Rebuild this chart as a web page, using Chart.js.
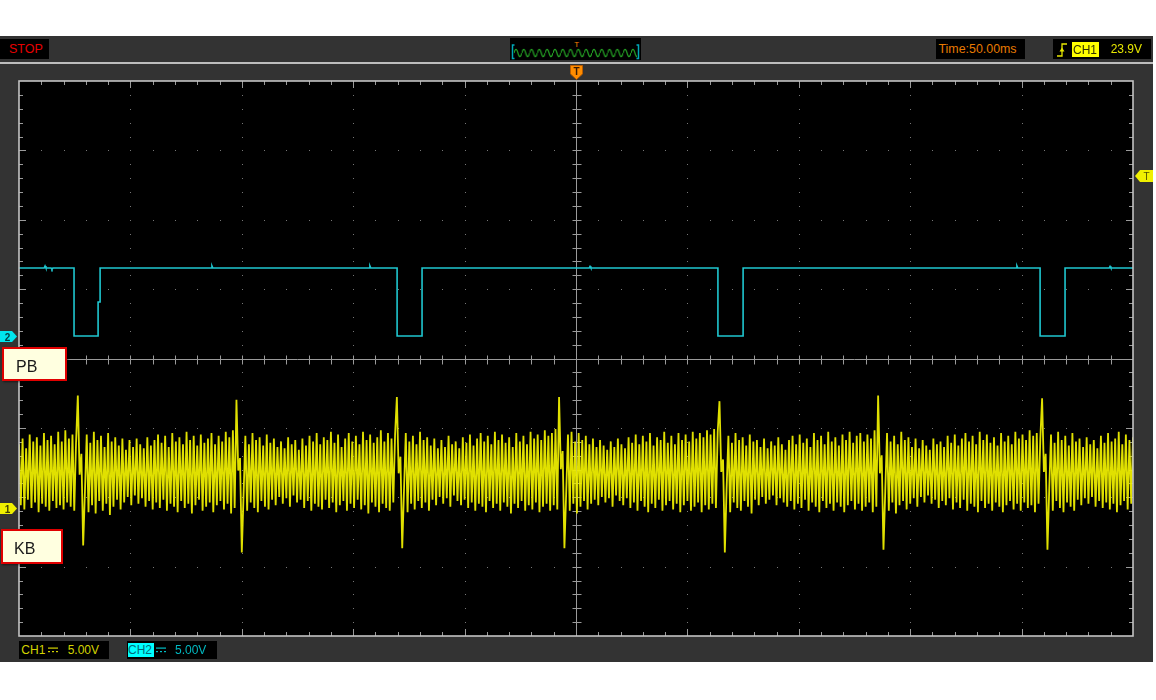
<!DOCTYPE html>
<html><head><meta charset="utf-8">
<script src="https://cdn.jsdelivr.net/npm/chart.js@4/dist/chart.umd.min.js"></script>
<style>
html,body{margin:0;padding:0;background:#fff;width:1156px;height:700px;overflow:hidden;font-family:"Liberation Sans",Arial,sans-serif;}
#frame{position:absolute;left:0;top:36px;width:1153px;height:626px;background:#333;}
#sep{position:absolute;left:0;top:62px;width:1153px;height:2px;background:#bdbdbd;}
#c{position:absolute;left:0;top:0;}
.ov{position:absolute;z-index:5;}
.box{position:absolute;z-index:5;background:#000;font-size:12px;line-height:12px;}
.box span{position:absolute;white-space:nowrap;}
.lbl{position:absolute;z-index:6;background:#ffffe0;border:2px solid #e00000;box-sizing:border-box;font-size:16px;color:#1a1a1a;box-shadow:1px 1px 2px rgba(0,0,0,0.5);}
.lbl span{position:absolute;top:9px;}
</style></head>
<body>
<div id="frame"></div>
<div id="sep"></div>
<canvas id="c" width="1156" height="700"></canvas>

<div class="box" style="left:0;top:39px;width:49px;height:20px;"><span style="left:9px;top:4px;color:#e60000;font-size:12.5px;">STOP</span></div>

<svg class="ov" style="left:510px;top:38px;" width="131" height="22">
  <defs><pattern id="wv" width="7.8" height="22" patternUnits="userSpaceOnUse" x="4"><path d="M0 15 Q1.95 7.6 3.9 15 T7.8 15" fill="none" stroke="#23a023" stroke-width="1.2"/></pattern></defs>
  <rect x="0" y="0" width="131" height="22" fill="#000"/>
  <rect x="4" y="0" width="123" height="22" fill="url(#wv)"/>
  <path d="M4.5 7 H2.5 V20.5 H4.5" fill="none" stroke="#00a8b8" stroke-width="1.5"/>
  <path d="M126.5 7 H128.5 V20.5 H126.5" fill="none" stroke="#00a8b8" stroke-width="1.5"/>
  <text x="66.7" y="9" font-size="8" font-family="Liberation Sans" fill="#ff8000" text-anchor="middle">T</text>
</svg>

<div class="box" style="left:936px;top:39px;width:89px;height:20px;"><span style="left:2.5px;top:4px;color:#e87a00;font-size:12.4px;">Time:50.00ms</span></div>

<div class="box" style="left:1053px;top:39px;width:98px;height:20px;">
  <svg style="position:absolute;left:3px;top:3px;" width="12" height="16"><path d="M1 14 H6 V2 H11" fill="none" stroke="#e8e800" stroke-width="1.3"/><path d="M3.5 9.5 L6 5.5 L8.5 9.5 Z" fill="#e8e800"/></svg>
  <span style="left:19px;top:3px;width:26.5px;height:14.5px;background:#ffff00;"></span>
  <span style="left:20px;top:4.5px;color:#303000;font-size:12px;">CH1</span>
  <span style="left:57.7px;top:4px;color:#e6e600;font-size:12px;">23.9V</span>
</div>

<div class="box" style="left:19px;top:641px;width:90px;height:18px;">
  <span style="left:2.3px;top:3px;color:#d4d400;">CH1</span>
  <svg style="position:absolute;left:29px;top:6px;" width="10" height="6"><rect x="0" y="0.5" width="10" height="1.2" fill="#d4d400"/><rect x="0" y="4" width="2" height="1.2" fill="#d4d400"/><rect x="4" y="4" width="2" height="1.2" fill="#d4d400"/><rect x="8" y="4" width="2" height="1.2" fill="#d4d400"/></svg>
  <span style="left:48.7px;top:3px;color:#d4d400;">5.00V</span>
</div>

<div class="box" style="left:127px;top:641px;width:90px;height:18px;">
  <span style="left:0.7px;top:2.3px;width:26.3px;height:13.4px;background:#00ffff;"></span>
  <span style="left:1px;top:3px;color:#006a78;">CH2</span>
  <svg style="position:absolute;left:29px;top:6px;" width="10" height="6"><rect x="0" y="0.5" width="10" height="1.2" fill="#00c0c8"/><rect x="0" y="4" width="2" height="1.2" fill="#00c0c8"/><rect x="4" y="4" width="2" height="1.2" fill="#00c0c8"/><rect x="8" y="4" width="2" height="1.2" fill="#00c0c8"/></svg>
  <span style="left:48px;top:3px;color:#00b8c0;">5.00V</span>
</div>

<svg class="ov" style="left:0;top:331px;" width="17" height="11"><path d="M0 0 H12 L17 5.5 L12 11 H0 Z" fill="#00e5ee"/><text x="7.5" y="9.5" font-size="10" font-weight="bold" font-family="Liberation Sans" fill="#003a40" text-anchor="middle">2</text></svg>
<svg class="ov" style="left:0;top:503px;" width="17" height="11"><path d="M0 0 H12 L17 5.5 L12 11 H0 Z" fill="#f0f000"/><text x="7.5" y="9.5" font-size="10" font-weight="bold" font-family="Liberation Sans" fill="#404000" text-anchor="middle">1</text></svg>
<svg class="ov" style="left:1135px;top:170px;" width="18" height="12"><path d="M0 6 L5 0 H18 V12 H5 Z" fill="#f0f000"/><text x="11.5" y="10" font-size="10" font-family="Liberation Sans" fill="#505000" text-anchor="middle">T</text></svg>
<svg class="ov" style="left:570px;top:65px;" width="13" height="15"><path d="M0.5 0.5 H12.5 V9 L6.5 14.5 L0.5 9 Z" fill="#ff8c00" stroke="#b85c00" stroke-width="1"/><text x="6.5" y="10" font-size="10" font-weight="bold" font-family="Liberation Sans" fill="#3a1a00" text-anchor="middle">T</text></svg>

<div class="lbl" style="left:2px;top:347px;width:65px;height:34px;"><span style="left:12px;">PB</span></div>
<div class="lbl" style="left:1px;top:529px;width:62px;height:35px;"><span style="left:11px;">KB</span></div>

<script>
// ---- data (volts / milliseconds) ----
// time window: -250 ms .. +250 ms (50 ms/div), trigger at 0
const timeStart = -250;
const timeEnd = 250;

// CH1 (KB), 5 V/div, uniformly sampled across the window
const ch1Volts = [
  4.6,0.2,5.0,-0.1,4.3,0.6,5.3,0.0,4.8,0.4,5.1,-0.3,4.5,0.3,5.4,0.1,4.9,-0.2,5.2,0.5,4.6,0.0,5.5,0.2,4.8,-0.1,5.6,0.4,5.0,0.1,5.3,-0.2,4.7,
  8.1,2.4,3.9,-2.7,1.2,
  5.3,-0.3,4.7,0.2,5.5,-0.4,4.9,0.5,5.2,-0.2,4.4,0.3,5.4,-0.5,4.8,0.1,5.1,0.6,4.5,-0.1,5.0,0.4,4.2,0.8,4.9,0.2,4.4,0.9,5.0,0.3,4.6,0.7,
  4.3,0.1,5.1,0.5,4.5,-0.1,4.9,0.4,5.3,0.0,4.7,0.6,5.2,-0.2,4.4,0.3,5.4,0.1,4.8,-0.3,5.1,0.5,4.6,0.0,5.5,0.3,4.9,-0.4,5.2,0.2,4.5,0.6,
  5.3,-0.2,4.7,0.1,5.0,0.4,5.4,-0.3,4.6,0.2,5.2,0.5,4.8,-0.1,5.5,0.3,5.1,-0.4,5.6,0.0,
  7.8,2.7,3.6,-3.2,1.0,
  5.2,-0.2,4.6,0.4,5.4,0.0,4.9,-0.3,5.1,0.5,4.5,0.1,5.3,-0.1,4.7,0.6,5.0,0.2,4.4,0.8,4.8,0.3,4.3,0.7,5.1,0.1,4.6,0.9,4.9,0.4,4.2,0.6,
  5.0,0.0,4.5,0.5,5.2,-0.2,4.8,0.3,5.4,0.1,4.6,-0.1,5.1,0.6,4.9,0.0,5.5,0.4,4.7,-0.3,5.3,0.2,4.4,0.5,5.0,-0.2,5.4,0.3,4.8,0.0,5.2,0.6,
  4.6,-0.1,5.5,0.2,4.9,-0.4,5.3,0.4,4.7,0.1,5.1,-0.3,5.6,0.3,4.8,0.0,5.4,-0.2,5.0,0.4,5.3,
  8.0,2.5,3.7,-2.9,1.3,
  5.4,-0.3,4.8,0.3,5.2,-0.1,4.6,0.5,5.5,0.0,4.9,0.4,5.1,-0.2,4.5,0.6,5.0,0.2,4.3,0.8,4.9,0.3,4.4,0.7,5.2,0.1,4.6,0.9,4.8,0.5,4.3,0.2,
  5.1,0.6,4.7,0.0,5.3,0.4,4.5,-0.2,5.0,0.3,5.4,0.1,4.8,-0.3,5.2,0.5,4.6,0.0,5.5,0.3,4.9,-0.2,5.3,0.4,4.7,0.1,5.1,-0.4,4.4,0.3,5.4,0.0,
  4.8,0.5,5.2,-0.2,4.6,0.2,5.5,-0.1,5.0,0.4,5.3,-0.3,4.9,0.1,5.6,0.3,5.2,-0.2,5.4,0.2,5.7,-0.1,
  8.0,2.8,4.1,-2.9,1.1,
  5.3,-0.2,5.5,0.3,4.8,-0.4,5.4,0.1,4.9,0.5,5.2,-0.1,4.6,0.3,5.0,0.6,4.4,0.2,4.9,0.8,4.5,0.4,4.2,0.7,4.8,0.1,4.4,0.9,5.0,0.5,4.6,0.2,
  4.3,0.7,5.1,0.0,4.7,0.4,5.3,-0.2,4.6,0.5,5.2,0.1,4.8,-0.3,5.4,0.3,4.5,0.0,5.1,0.6,4.9,-0.2,5.5,0.2,4.7,0.5,5.2,-0.1,4.6,0.3,5.4,-0.3,
  4.9,0.2,5.3,0.5,4.8,-0.2,5.5,0.1,5.0,0.4,5.4,-0.3,5.1,0.2,5.6,-0.1,5.3,0.3,5.7,0.0,5.5,
  7.7,2.6,3.5,-3.2,1.4,
  5.2,-0.3,4.7,0.4,5.4,0.0,4.9,-0.2,5.1,0.5,4.5,0.1,5.3,-0.4,4.8,0.6,4.9,0.2,4.4,0.8,5.0,0.3,4.3,0.6,4.8,0.9,4.5,0.2,5.1,0.7,4.6,0.4,
  4.2,0.1,4.9,0.5,5.2,-0.1,4.6,0.3,5.3,0.0,4.7,0.6,5.0,-0.2,4.4,0.4,5.4,0.1,4.9,-0.3,5.2,0.5,4.6,0.0,5.5,0.3,4.8,-0.2,5.1,0.4,4.5,0.1,
  5.3,-0.3,4.9,0.2,5.5,0.5,4.7,-0.1,5.2,0.3,5.4,-0.2,4.8,0.1,5.3,0.4,5.0,-0.3,5.6,0.1,
  8.1,2.5,3.8,-3.0,1.2,
  5.4,-0.2,4.8,0.4,5.2,-0.4,4.6,0.2,5.5,0.5,4.9,-0.1,5.1,0.3,4.4,0.7,5.0,0.1,4.3,0.8,4.9,0.4,4.5,0.9,4.2,0.3,5.0,0.6,4.6,0.0,4.8,0.5,
  4.4,0.2,5.2,0.7,4.7,-0.1,5.3,0.4,4.5,0.0,5.0,0.6,5.4,-0.2,4.8,0.3,5.2,0.1,4.6,-0.3,5.5,0.5,4.9,0.0,5.3,0.3,4.7,-0.2,5.1,0.4,4.5,0.1,
  5.4,-0.3,4.8,0.2,5.2,0.5,4.6,-0.1,5.5,0.3,5.0,-0.2,5.3,0.4,4.9,0.0,5.6,0.2,5.2,-0.3,5.4,0.3,5.0,
  7.9,2.6,3.9,-3.0,1.3,
  5.3,-0.2,4.7,0.5,5.5,0.0,4.9,-0.3,5.2,0.4,4.5,0.1,5.4,-0.2,4.8,0.6,5.0,0.2,4.4,0.7,5.1,0.3,4.6,0.8,4.9,0.1,4.3,0.5,5.2,0.0,4.7,0.4,
  5.4,-0.1,4.8,0.3,5.0,-0.3,5.5,0.2,4.6,0.5,5.3,-0.1,4.9,0.3,5.1
];

// CH2 (PB), 5 V/div: edge/corner points of the pulse train
const ch2Times = [
  -250, -238.7, -238.3, -237.9, -235.6, -235.2, -234.8,
  -225.3, -225.3, -214.5, -214.5, -213.6, -213.6,
  -163.8, -163.4, -163.0, -92.9, -92.5, -92.1,
  -80.3, -80.3, -69.1, -69.1,
  5.9, 6.3, 6.7,
  63.7, 63.7, 75.0, 75.0,
  197.5, 197.9, 198.3,
  208.3, 208.3, 219.5, 219.5,
  239.3, 239.7, 240.1, 250
];
const ch2Volts = [
  4.9, 4.9, 5.05, 4.9, 4.9, 4.8, 4.9,
  4.9, 0, 0, 2.45, 2.45, 4.9,
  4.9, 5.05, 4.9, 4.9, 5.05, 4.9,
  4.9, 0, 0, 4.9,
  4.9, 5.02, 4.9,
  4.9, 0, 0, 4.9,
  4.9, 5.05, 4.9,
  4.9, 0, 0, 4.9,
  4.9, 5.02, 4.9, 4.9
];

// channel scales (volts/div) and ground offsets (divisions from bottom)
const ch1VoltsPerDiv = 5, ch1GroundDiv = 1.845;
const ch2VoltsPerDiv = 5, ch2GroundDiv = 4.324;

// ---- chart ----
const dt = (timeEnd - timeStart) / (ch1Volts.length - 1);
const ch1Points = ch1Volts.map((v, i) => ({x: timeStart + i * dt, y: v}));
const ch2Points = ch2Times.map((t, i) => ({x: t, y: ch2Volts[i]}));

const scopeGrid = {
  id: 'scopeGrid',
  beforeDatasetsDraw(chart) {
    const {ctx, chartArea: a} = chart;
    const W = a.right - a.left, H = a.bottom - a.top;
    const dx = W / 10, dy = H / 8;
    ctx.save();
    ctx.fillStyle = '#000';
    ctx.fillRect(a.left, a.top, W, H);
    ctx.fillStyle = '#777';
    for (let i = 1; i < 10; i++) {
      if (i === 5) continue;
      const x = Math.round(a.left + i * dx);
      for (let j = 1; j < 40; j++) ctx.fillRect(x, Math.round(a.top + j * dy / 5), 1, 1);
    }
    for (let j = 1; j < 8; j++) {
      if (j === 4) continue;
      const y = Math.round(a.top + j * dy);
      for (let i = 1; i < 50; i++) ctx.fillRect(Math.round(a.left + i * dx / 5), y, 1, 1);
    }
    ctx.strokeStyle = '#9a9a9a';
    ctx.lineWidth = 1;
    const cx = Math.round(a.left + 5 * dx) + 0.5, cy = Math.round(a.top + 4 * dy) + 0.5;
    ctx.beginPath();
    ctx.moveTo(cx, a.top); ctx.lineTo(cx, a.bottom);
    ctx.moveTo(a.left, cy); ctx.lineTo(a.right, cy);
    for (let i = 1; i < 50; i++) {
      const x = Math.round(a.left + i * dx / 5) + 0.5;
      ctx.moveTo(x, cy - 4); ctx.lineTo(x, cy + 5);
      const L = i % 5 === 0 ? 7 : 4;
      ctx.moveTo(x, a.top); ctx.lineTo(x, a.top + L);
      ctx.moveTo(x, a.bottom); ctx.lineTo(x, a.bottom - L);
    }
    for (let j = 1; j < 40; j++) {
      const y = Math.round(a.top + j * dy / 5) + 0.5;
      ctx.moveTo(cx - 4, y); ctx.lineTo(cx + 5, y);
      const L = j % 5 === 0 ? 7 : 4;
      ctx.moveTo(a.left, y); ctx.lineTo(a.left + L, y);
      ctx.moveTo(a.right, y); ctx.lineTo(a.right - L, y);
    }
    ctx.stroke();
    ctx.restore();
  },
  afterDatasetsDraw(chart) {
    const {ctx, chartArea: a} = chart;
    ctx.save();
    ctx.strokeStyle = '#c4c4c4';
    ctx.lineWidth = 1.6;
    ctx.strokeRect(a.left, a.top, a.right - a.left, a.bottom - a.top);
    ctx.restore();
  }
};

new Chart(document.getElementById('c'), {
  type: 'line',
  data: {
    datasets: [
      {label: 'CH1', data: ch1Points, yAxisID: 'y1', borderColor: 'rgba(236,236,0,0.95)', borderWidth: 1.8, pointRadius: 0, tension: 0},
      {label: 'CH2', data: ch2Points, yAxisID: 'y2', borderColor: '#1fc6cf', borderWidth: 1.6, pointRadius: 0, tension: 0}
    ]
  },
  options: {
    responsive: false,
    animation: false,
    devicePixelRatio: 1,
    layout: {padding: {left: 19, top: 81, right: 23, bottom: 64}},
    plugins: {legend: {display: false}, tooltip: {enabled: false}},
    scales: {
      x: {type: 'linear', min: timeStart, max: timeEnd, display: false},
      y1: {type: 'linear', min: -ch1GroundDiv * ch1VoltsPerDiv, max: (8 - ch1GroundDiv) * ch1VoltsPerDiv, display: false},
      y2: {type: 'linear', min: -ch2GroundDiv * ch2VoltsPerDiv, max: (8 - ch2GroundDiv) * ch2VoltsPerDiv, display: false}
    }
  },
  plugins: [scopeGrid]
});
</script>
</body></html>
